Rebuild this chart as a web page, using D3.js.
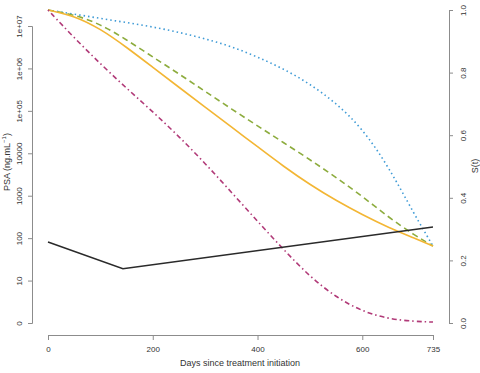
<!DOCTYPE html>
<html>
<head>
<meta charset="utf-8">
<script src="https://cdn.jsdelivr.net/npm/d3@7"></script>
<style>
  body { margin: 0; background: #fff; }
  text { font-family: "Liberation Sans", Arial, sans-serif; fill: #333; }
</style>
</head>
<body>
<svg id="chart"></svg>
<script>
// Days on the grid where the survival curves were read
const days = [0, 50, 100, 150, 200, 250, 300, 350, 400, 450, 500, 550, 600, 650, 700, 735];

// Survival values S(t), right axis
const survDotted  = [1, 0.987, 0.973, 0.960, 0.946, 0.929, 0.908, 0.884, 0.850, 0.812, 0.764, 0.703, 0.622, 0.500, 0.345, 0.246];
const survDashed  = [1, 0.985, 0.955, 0.905, 0.850, 0.796, 0.740, 0.684, 0.630, 0.576, 0.522, 0.465, 0.405, 0.338, 0.280, 0.246];
const survSolid   = [1, 0.982, 0.940, 0.881, 0.817, 0.753, 0.690, 0.627, 0.563, 0.500, 0.442, 0.391, 0.346, 0.305, 0.271, 0.246];
const survDotDash = [1, 0.911, 0.828, 0.750, 0.675, 0.596, 0.510, 0.418, 0.325, 0.234, 0.148, 0.082, 0.037, 0.013, 0.005, 0.003];

// PSA trajectory, left axis
const psaDays = [0, 143, 735];
const psaValues = [81, 19, 183];

// Axis ticks
const xTicks = [0, 200, 400, 600, 735];
const psaTickLabels = ["0", "10", "100", "1000", "10000", "1e+05", "1e+06", "1e+07"];
const survTicks = [0, 0.2, 0.4, 0.6, 0.8, 1.0];

const width = 480, height = 373;

const svg = d3.select("#chart")
  .attr("width", width)
  .attr("height", height);

const x = d3.scaleLinear().domain([0, 735]).range([48, 433]);
const yLeft = d3.scaleLinear().domain([0, 7]).range([323, 26]);
const yRight = d3.scaleLinear().domain([0, 1]).range([323, 10]);

const axisColor = "#8c8c8c";

// Bottom axis
const xAxis = svg.append("g")
  .attr("transform", "translate(0,335)")
  .call(d3.axisBottom(x).tickValues(xTicks).tickFormat(d3.format("d")).tickSize(5).tickPadding(6));
xAxis.selectAll("path, line").attr("stroke", axisColor);
xAxis.selectAll("text").style("font-size", "8px").attr("fill", "#333");

// Left axis (log10 of PSA)
const leftAxis = svg.append("g")
  .attr("transform", "translate(32,0)")
  .call(d3.axisLeft(yLeft).tickValues(d3.range(8)).tickFormat(i => psaTickLabels[i]).tickSize(4).tickPadding(0));
leftAxis.selectAll("path, line").attr("stroke", axisColor);
leftAxis.selectAll("text")
  .style("font-size", "8px")
  .attr("fill", "#333")
  .attr("text-anchor", "middle")
  .attr("dy", null)
  .attr("x", null)
  .attr("transform", "translate(-10,0) rotate(-90)")
  .attr("y", 0);

// Right axis (survival)
const rightAxis = svg.append("g")
  .attr("transform", "translate(449,0)")
  .call(d3.axisRight(yRight).tickValues(survTicks).tickFormat(d3.format(".1f")).tickSize(4).tickPadding(0));
rightAxis.selectAll("path, line").attr("stroke", axisColor);
rightAxis.selectAll("text")
  .style("font-size", "8px")
  .attr("fill", "#333")
  .attr("text-anchor", "middle")
  .attr("dy", null)
  .attr("x", null)
  .attr("transform", "translate(17,0) rotate(-90)")
  .attr("y", 0);

// Axis titles
svg.append("text")
  .text("Days since treatment initiation")
  .attr("x", 240)
  .attr("y", 366)
  .attr("text-anchor", "middle")
  .style("font-size", "9px");

const psaLabel = svg.append("text")
  .attr("transform", "translate(10,162) rotate(-90)")
  .attr("text-anchor", "middle")
  .style("font-size", "9px");
psaLabel.append("tspan").text("PSA (ng.mL");
psaLabel.append("tspan").text("\u22121").attr("dy", -4).style("font-size", "6px");
psaLabel.append("tspan").text(")").attr("dy", 4);

svg.append("text")
  .text("S(t)")
  .attr("transform", "translate(478,166) rotate(-90)")
  .attr("text-anchor", "middle")
  .style("font-size", "9px");

// Survival curves
const survLine = d3.line()
  .x((d, i) => x(days[i]))
  .y(d => yRight(d))
  .curve(d3.curveBasis);

const curves = [
  { values: survDotted, color: "#3f9bd6", dash: "1.5,3" },
  { values: survDashed, color: "#8dac3e", dash: "6,4" },
  { values: survSolid, color: "#f3b634", dash: null },
  { values: survDotDash, color: "#b13a78", dash: "1.5,3,5,3" }
];

curves.forEach(c => {
  svg.append("path")
    .datum(c.values)
    .attr("d", survLine)
    .attr("fill", "none")
    .attr("stroke", c.color)
    .attr("stroke-width", 1.6)
    .attr("stroke-dasharray", c.dash);
});

// PSA line
const psaLine = d3.line()
  .x((d, i) => x(psaDays[i]))
  .y(d => yLeft(Math.log10(d)));

svg.append("path")
  .datum(psaValues)
  .attr("d", psaLine)
  .attr("fill", "none")
  .attr("stroke", "#2a2a2a")
  .attr("stroke-width", 1.5);
</script>
</body>
</html>
